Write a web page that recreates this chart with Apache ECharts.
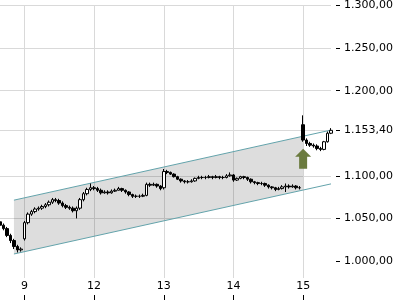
<!DOCTYPE html>
<html>
<head>
<meta charset="utf-8">
<script src="https://cdn.jsdelivr.net/npm/echarts@6/dist/echarts.min.js"></script>
<style>html,body{margin:0;padding:0;background:#fff}#c{width:400px;height:300px}</style>
</head>
<body>
<div id="c"></div>
<script>
// Day labels and the candle index where each day starts
const dayLabels = ['9', '12', '13', '14', '15'];
const dayStartIdx = [7, 27, 47, 67, 87];

// OHLC values (day 8 tail, 9, 12, 13, 14, 15 partial)
const opens = [
  1046, 1042, 1038, 1030, 1024, 1017, 1013,
  1026, 1045, 1055, 1058, 1061, 1062, 1064, 1066, 1069, 1072, 1071, 1068, 1065, 1063, 1062, 1059, 1062, 1072, 1079, 1084,
  1086, 1085, 1083, 1080, 1081, 1080, 1082, 1083, 1085, 1083, 1081, 1078, 1076, 1076, 1076, 1077, 1090, 1089, 1090, 1088,
  1086, 1105, 1104, 1102, 1099, 1096, 1094, 1093, 1093, 1094, 1097, 1098, 1098, 1098, 1099, 1098, 1099, 1098, 1098, 1100,
  1101, 1095, 1097, 1099, 1098, 1096, 1093, 1092, 1091, 1091, 1089, 1087, 1086, 1084, 1085, 1087, 1088, 1087, 1088, 1086,
  1160, 1142, 1138, 1136, 1135, 1132, 1131, 1140, 1150
];
const closes = [
  1042, 1038, 1030, 1024, 1017, 1013, 1014,
  1045, 1055, 1058, 1061, 1062, 1064, 1066, 1069, 1072, 1071, 1068, 1065, 1063, 1062, 1059, 1062, 1072, 1079, 1084, 1086,
  1085, 1083, 1080, 1081, 1080, 1082, 1083, 1085, 1083, 1081, 1078, 1076, 1076, 1076, 1077, 1090, 1089, 1090, 1088, 1085,
  1105, 1104, 1102, 1099, 1096, 1094, 1093, 1093, 1094, 1097, 1098, 1098, 1098, 1099, 1098, 1099, 1098, 1098, 1100, 1101,
  1095, 1097, 1099, 1098, 1096, 1093, 1092, 1091, 1091, 1089, 1087, 1086, 1084, 1085, 1087, 1088, 1087, 1088, 1086, 1086,
  1142, 1138, 1136, 1135, 1132, 1131, 1140, 1150, 1153.4
];
const lows = [
  1040, 1036, 1028, 1021, 1014, 1010, 1011,
  1024, 1043, 1053, 1056, 1059, 1060, 1062, 1064, 1067, 1069, 1066, 1063, 1061, 1060, 1057, 1050, 1060, 1070, 1077, 1082,
  1083, 1081, 1078, 1079, 1078, 1079, 1081, 1083, 1081, 1079, 1076, 1074, 1074, 1074, 1075, 1076, 1087, 1088, 1086, 1083,
  1084, 1102, 1101, 1098, 1095, 1092, 1091, 1091, 1092, 1093, 1096, 1096, 1096, 1097, 1096, 1097, 1096, 1096, 1097, 1099,
  1093, 1094, 1096, 1096, 1094, 1091, 1090, 1089, 1089, 1087, 1085, 1084, 1082, 1083, 1084, 1081, 1085, 1086, 1084, 1084,
  1140, 1135, 1134, 1133, 1130, 1129, 1130, 1139, 1149
];
const highs = [
  1048, 1044, 1040, 1032, 1026, 1019, 1016,
  1047, 1057, 1060, 1063, 1064, 1066, 1068, 1071, 1074, 1074, 1073, 1070, 1067, 1065, 1064, 1064, 1074, 1081, 1086, 1091,
  1088, 1087, 1085, 1083, 1083, 1084, 1085, 1087, 1086, 1084, 1082, 1079, 1078, 1078, 1079, 1092, 1092, 1092, 1091, 1089,
  1108, 1107, 1105, 1103, 1100, 1097, 1095, 1095, 1096, 1098, 1100, 1100, 1100, 1101, 1100, 1101, 1100, 1100, 1102, 1104,
  1102, 1098, 1100, 1100, 1099, 1097, 1094, 1093, 1093, 1092, 1090, 1088, 1087, 1087, 1089, 1091, 1090, 1090, 1089, 1088,
  1171, 1144, 1140, 1138, 1137, 1134, 1141, 1152, 1156
];

// Y-axis label values (last price replaces 1.150,00)
const yLabelValues = [1000, 1050, 1100, 1153.4, 1200, 1250, 1300];

// Trend channel (candle index, lower, upper); fill only up to second point
const channelX = [4, 87, 95];
const channelLower = [1008.2, 1083.3, 1090.5];
const channelUpper = [1071.4, 1146.5, 1153.7];

// Buy signal arrow
const signalX = 87;
const signalY = 1120;

const categories = opens.map((_, i) => String(i));
const candles = opens.map((o, i) => [o, closes[i], lows[i], highs[i]]);
const isDayStart = (idx) => dayStartIdx.indexOf(idx) >= 0;

function fmtDE(v) {
  const parts = Number(v).toFixed(2).split('.');
  const intPart = parts[0].replace(/\B(?=(\d{3})+(?!\d))/g, '.');
  return intPart + ',' + parts[1];
}

const chart = echarts.init(document.getElementById('c'), null, { renderer: 'canvas' });
const font = 'DejaVu Sans';
chart.setOption({
  animation: false,
  backgroundColor: '#fff',
  grid: { left: -1.5, right: 69, top: 1, bottom: 22, containLabel: false },
  xAxis: [{
    type: 'category',
    data: categories,
    boundaryGap: false,
    axisLine: { show: false },
    axisTick: { show: false },
    axisLabel: {
      interval: (idx) => isDayStart(idx),
      formatter: (val, idx) => {
        const k = dayStartIdx.indexOf(Number(val));
        return k >= 0 ? dayLabels[k] : '';
      },
      margin: 3,
      fontFamily: font, fontSize: 11, color: '#000'
    },
    splitLine: {
      show: true,
      interval: (idx) => isDayStart(idx),
      lineStyle: { color: '#d9d9d9', width: 1 }
    }
  }, {
    type: 'category',
    data: categories,
    boundaryGap: false,
    position: 'bottom',
    offset: 22,
    axisLine: { show: false },
    axisTick: { show: true, inside: true, length: 5, interval: (idx) => isDayStart(idx), lineStyle: { color: '#000', width: 1 } },
    axisLabel: { show: false },
    splitLine: { show: false }
  }],
  yAxis: {
    type: 'value',
    position: 'right',
    min: 980, max: 1300, interval: 50,
    offset: 5,
    axisLine: { show: false },
    axisTick: { show: true, length: 4, customValues: yLabelValues, lineStyle: { color: '#000', width: 1 } },
    axisLabel: {
      customValues: yLabelValues,
      formatter: fmtDE,
      margin: 8,
      fontFamily: font, fontSize: 11, color: '#000'
    },
    splitLine: { show: true, showMinLine: false, lineStyle: { color: '#d9d9d9', width: 1 } }
  },
  series: [{
    type: 'custom',
    xAxisIndex: 0,
    z: 1,
    data: channelX.map((x, i) => [x, channelLower[i], channelUpper[i]]),
    renderItem: function (params, api) {
      const i = params.dataIndex;
      if (i >= channelX.length - 1) return null;
      const l0 = api.coord([channelX[i], channelLower[i]]);
      const u0 = api.coord([channelX[i], channelUpper[i]]);
      const l1 = api.coord([channelX[i + 1], channelLower[i + 1]]);
      const u1 = api.coord([channelX[i + 1], channelUpper[i + 1]]);
      const children = [];
      if (i === 0) {
        children.push({ type: 'polygon', shape: { points: [l0, l1, u1, u0] }, style: { fill: 'rgba(0,0,0,0.135)' }, z2: 0 });
      }
      children.push({ type: 'line', shape: { x1: l0[0], y1: l0[1], x2: l1[0], y2: l1[1] }, style: { stroke: '#63a3ab', lineWidth: 1 }, z2: 1 });
      children.push({ type: 'line', shape: { x1: u0[0], y1: u0[1], x2: u1[0], y2: u1[1] }, style: { stroke: '#63a3ab', lineWidth: 1 }, z2: 1 });
      return { type: 'group', children: children };
    }
  }, {
    type: 'candlestick',
    xAxisIndex: 0,
    z: 3,
    data: candles,
    barWidth: 3,
    itemStyle: { color: '#ffffff', color0: '#000000', borderColor: '#000000', borderColor0: '#000000', borderWidth: 1 },
    markPoint: {
      symbol: 'path://M8,0 L16,8 L12,8 L12,20 L4,20 L4,8 L0,8 Z',
      symbolSize: [16, 20],
      itemStyle: { color: '#6b7b3f' },
      label: { show: false },
      data: [{ coord: [signalX, signalY] }]
    }
  }]
});
</script>
</body>
</html>
